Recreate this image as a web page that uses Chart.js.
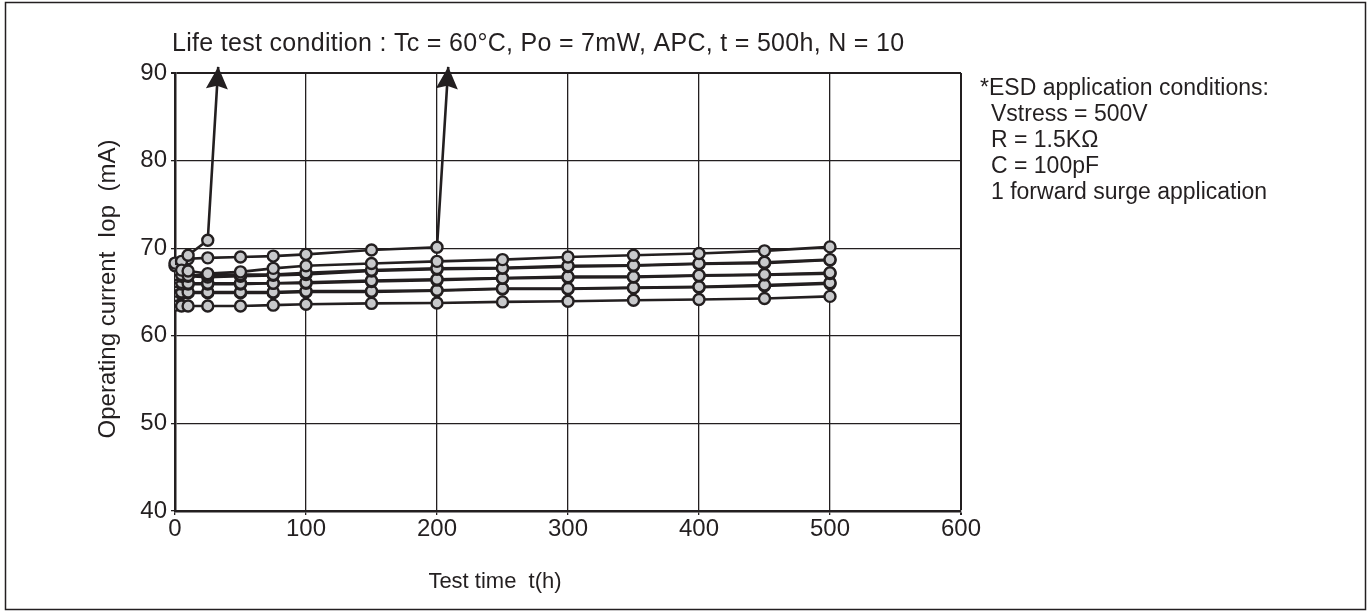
<!DOCTYPE html>
<html>
<head>
<meta charset="utf-8">
<script src="https://cdn.jsdelivr.net/npm/chart.js@4.4.1/dist/chart.umd.min.js"></script>
<style>
  html, body { margin: 0; padding: 0; background: #fff; }
  #wrap { position: relative; width: 1372px; height: 613px; }
</style>
</head>
<body>
<div id="wrap"><canvas id="chart" width="1372" height="613"></canvas></div>
<script>
  // Test times (h) shared by every unit
  const hours = [0, 5, 10, 25, 50, 75, 100, 150, 200, 250, 300, 350, 400, 450, 500];

  // Units that survived the full 500 h
  const unit1 = [67.6, 67.5, 67.4, 67.1, 67.3, 67.7, 68.0, 68.25, 68.5, 68.7, 69.0, 69.2, 69.4, 69.7, 70.15];
  const unit2 = [67.0, 67.0, 66.9, 66.9, 67.0, 67.0, 67.2, 67.5, 67.7, 67.75, 68.0, 68.05, 68.25, 68.4, 68.7];
  const unit3 = [66.7, 66.8, 66.8, 66.7, 66.8, 66.9, 67.0, 67.4, 67.6, 67.7, 67.9, 68.0, 68.2, 68.3, 68.65];
  const unit4 = [66.2, 66.1, 66.0, 66.0, 66.0, 66.0, 66.1, 66.3, 66.45, 66.6, 66.75, 66.75, 66.9, 67.0, 67.2];
  const unit5 = [65.8, 65.9, 65.9, 65.9, 65.9, 66.0, 66.0, 66.2, 66.35, 66.55, 66.65, 66.7, 66.85, 66.95, 67.1];
  const unit6 = [65.1, 65.0, 65.0, 65.0, 65.0, 65.0, 65.1, 65.1, 65.2, 65.4, 65.4, 65.5, 65.6, 65.8, 66.05];
  const unit7 = [64.6, 64.8, 64.9, 64.9, 64.9, 64.9, 65.0, 65.0, 65.15, 65.35, 65.35, 65.45, 65.55, 65.7, 65.95];
  const unit8 = [63.5, 63.4, 63.4, 63.4, 63.4, 63.5, 63.6, 63.7, 63.75, 63.87, 63.94, 64.06, 64.14, 64.25, 64.5];

  // Units that ran away (arrow goes off the top of the scale)
  const unit9  = [68.3, 68.5, 69.2, 70.9];
  const unit9Arrow = [33, 90.7];
  const unit10 = [68.0, 68.3, 68.8, 68.9, 69.0, 69.1, 69.3, 69.8, 70.1];
  const unit10Arrow = [208.6, 90.7];

  // Axis ticks
  const xTicks = [0, 100, 200, 300, 400, 500, 600];
  const yTicks = [40, 50, 60, 70, 80, 90];

  // Texts
  const titleText = 'Life test condition : Tc = 60\u00B0C, Po = 7mW, APC, t = 500h, N = 10';
  const xTitle = 'Test time  t(h)';
  const yTitle = 'Operating current  Iop  (mA)';
  const noteHead = '*ESD application conditions:';
  const noteLines = ['Vstress = 500V', 'R = 1.5K\u03A9', 'C = 100pF', '1 forward surge application'];

  const INK = '#231f20';
  const FONT = '"Liberation Sans", Arial, Helvetica, sans-serif';

  const toPoints = (vals) => vals.map((v, i) => ({ x: hours[i], y: v }));

  function unitDataset(vals, arrow) {
    const data = toPoints(vals);
    if (arrow) data.push({ x: arrow[0], y: arrow[1] });
    const last = data.length - 1;
    return {
      data,
      arrow: !!arrow,
      clip: arrow ? false : undefined,
      borderColor: INK,
      borderWidth: 2.6,
      backgroundColor: '#c8c9cb',
      pointBorderColor: INK,
      pointBorderWidth: 2.4,
      pointRadius: (ctx) => (arrow && ctx.dataIndex === last) ? 0 : 5.5,
      pointHoverRadius: 5.5,
      tension: 0,
      fill: false
    };
  }

  // Arrowheads + free texts
  const decorPlugin = {
    id: 'decor',
    afterDatasetsDraw(chart) {
      const ctx = chart.ctx;
      ctx.save();
      chart.data.datasets.forEach((ds, i) => {
        if (!ds.arrow) return;
        const pts = chart.getDatasetMeta(i).data;
        const tip = pts[pts.length - 1];
        const prev = pts[pts.length - 2];
        const ang = Math.atan2(tip.y - prev.y, tip.x - prev.x);
        const len = 22, half = 11;
        const bx = tip.x - len * Math.cos(ang);
        const by = tip.y - len * Math.sin(ang);
        ctx.fillStyle = INK;
        ctx.beginPath();
        ctx.moveTo(tip.x, tip.y);
        ctx.lineTo(bx + half * Math.sin(ang), by - half * Math.cos(ang));
        ctx.lineTo(bx + 3 * Math.cos(ang), by + 3 * Math.sin(ang));
        ctx.lineTo(bx - half * Math.sin(ang), by + half * Math.cos(ang));
        ctx.closePath();
        ctx.fill();
      });
      ctx.restore();
    },
    afterDraw(chart) {
      const ctx = chart.ctx;
      ctx.save();
      ctx.fillStyle = INK;
      ctx.textBaseline = 'middle';
      ctx.textAlign = 'left';

      ctx.font = '25px ' + FONT;
      ctx.letterSpacing = '0.3px';
      ctx.fillText(titleText, 172, 44);
      ctx.letterSpacing = '0px';

      ctx.font = '23px ' + FONT;
      ctx.fillText(noteHead, 980, 89);
      noteLines.forEach((t, k) => ctx.fillText(t, 991, 115 + k * 26));

      ctx.font = '22px ' + FONT;
      ctx.textAlign = 'center';
      ctx.fillText(xTitle, 495, 582);

      ctx.font = '24px ' + FONT;
      ctx.translate(108, 289);
      ctx.rotate(-Math.PI / 2);
      ctx.fillText(yTitle, 0, 0);
      ctx.restore();

      // outer frame
      ctx.save();
      ctx.strokeStyle = INK;
      ctx.lineWidth = 1.5;
      ctx.strokeRect(5.5, 2.5, 1360, 607);
      ctx.restore();
    }
  };

  const gridWidth = (ticksArr) => (c) =>
    (c.index === ticksArr.length - 1) ? 2 : 1.3;

  new Chart(document.getElementById('chart'), {
    type: 'line',
    data: {
      datasets: [
        unitDataset(unit1), unitDataset(unit2), unitDataset(unit3), unitDataset(unit4),
        unitDataset(unit5), unitDataset(unit6), unitDataset(unit7), unitDataset(unit8),
        unitDataset(unit9, unit9Arrow), unitDataset(unit10, unit10Arrow)
      ]
    },
    options: {
      responsive: false,
      animation: false,
      events: [],
      layout: { padding: { top: 73, right: 411, left: 0, bottom: 0 } },
      plugins: { legend: { display: false }, tooltip: { enabled: false } },
      scales: {
        x: {
          type: 'linear',
          min: 0, max: 600,
          afterBuildTicks: (s) => { s.ticks = xTicks.map(v => ({ value: v })); },
          afterFit: (s) => { s.height = 102; },
          border: { display: true, color: INK, width: 2.5 },
          grid: { color: INK, lineWidth: gridWidth(xTicks), tickLength: 4, drawTicks: true },
          ticks: { color: INK, font: { family: FONT, size: 24 }, padding: 0, maxRotation: 0, autoSkip: false }
        },
        y: {
          type: 'linear',
          min: 40, max: 90,
          afterBuildTicks: (s) => { s.ticks = yTicks.map(v => ({ value: v })); },
          afterFit: (s) => { s.width = 175; },
          border: { display: true, color: INK, width: 2.5 },
          grid: { color: INK, lineWidth: gridWidth(yTicks), tickLength: 4, drawTicks: true },
          ticks: { color: INK, font: { family: FONT, size: 24 }, padding: 4 }
        }
      }
    },
    plugins: [decorPlugin]
  });
</script>
</body>
</html>
